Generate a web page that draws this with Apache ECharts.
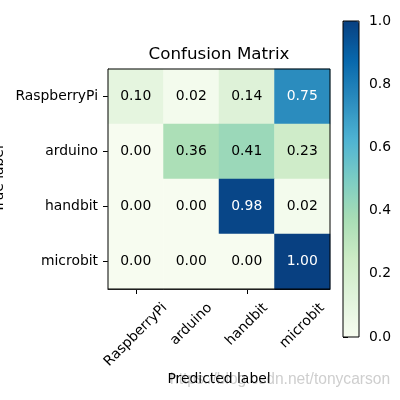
<!DOCTYPE html>
<html><head><meta charset="utf-8">
<script src="https://cdn.jsdelivr.net/npm/echarts@6/dist/echarts.min.js"></script>
<style>html,body{margin:0;padding:0;background:#fff}#c{width:400px;height:400px}</style>
</head><body><div id="c"></div>
<script>
// ---- data ----
const classes = ['RaspberryPi', 'arduino', 'handbit', 'microbit'];
const row_RaspberryPi = [0.10, 0.02, 0.14, 0.75];
const row_arduino     = [0.00, 0.36, 0.41, 0.23];
const row_handbit     = [0.00, 0.00, 0.98, 0.02];
const row_microbit    = [0.00, 0.00, 0.00, 1.00];
const matrix = [row_RaspberryPi, row_arduino, row_handbit, row_microbit];
const colorbarMin = 0, colorbarMax = 1, colorbarStep = 0.2;
const titleText = 'Confusion Matrix';
const xName = 'Predicted label';
const yName = 'True label';
const watermark = 'https://blog.csdn.net/tonycarson';

// ---- style ----
const FONT = 'DejaVu Sans';
const FS = 13.9;
const GnBu = ['#f7fcf0','#e0f3db','#ccebc5','#a8ddb5','#7bccc4','#4eb3d3','#2b8cbe','#0868ac','#084081'];
const thresh = (colorbarMax + colorbarMin) / 2;

const data = [];
matrix.forEach((row, i) => row.forEach((v, j) => {
  data.push({ value: [j, i, v], label: { color: v > thresh ? '#ffffff' : '#000000' } });
}));

// matplotlib-style rotated tick labels (rotation=45, ha='center'):
// each label gets its own label-only category axis, shifted so its rotated box hangs centred under the tick
const ctx = document.createElement('canvas').getContext('2d');
ctx.font = FS + 'px "' + FONT + '"';
const labelAxes = classes.map((c, k) => {
  const L = ctx.measureText(c).width;
  return {
    type: 'category', gridIndex: 0, data: classes, position: 'bottom',
    offset: 6.7 + 0.354 * L,
    axisLine: { show: false }, axisTick: { show: false }, splitLine: { show: false },
    axisLabel: { interval: 0, rotate: 45, align: 'center', verticalAlign: 'middle', margin: 10,
      fontFamily: FONT, fontSize: FS, color: '#000',
      formatter: (v, idx) => (idx === k ? v : '') }
  };
});

const chart = echarts.init(document.getElementById('c'), null, { renderer: 'canvas' });
chart.setOption({
  animation: false,
  backgroundColor: '#ffffff',
  textStyle: { fontFamily: FONT },
  title: {
    text: titleText, left: 219, top: 46, textAlign: 'center', padding: 0,
    textStyle: { fontFamily: FONT, fontSize: 16.7, fontWeight: 'normal', color: '#000' }
  },
  grid: [
    { left: 108, top: 69, width: 222, height: 220, show: true, borderColor: '#000', borderWidth: 1,
      backgroundColor: 'transparent', z: 5, containLabel: false, outerBoundsMode: 'none' },
    { left: 343, top: 21, width: 16, height: 316, show: true, borderColor: '#000', borderWidth: 1,
      backgroundColor: 'transparent', z: 10, containLabel: false, outerBoundsMode: 'none' }
  ],
  xAxis: [
    { type: 'category', gridIndex: 0, data: classes, position: 'bottom',
      name: xName, nameLocation: 'middle', nameGap: 83, nameMoveOverlap: false,
      nameTextStyle: { fontFamily: FONT, fontSize: FS, color: '#000' },
      axisLine: { show: true, lineStyle: { color: '#000', width: 1 } },
      axisTick: { show: true, alignWithLabel: true, length: 5, lineStyle: { color: '#000' } },
      axisLabel: { show: false },
      splitLine: { show: false } },
    { type: 'value', gridIndex: 1, min: 0, max: 1, show: false }
  ].concat(labelAxes),
  yAxis: [
    { type: 'category', gridIndex: 0, data: classes, inverse: true,
      name: yName, nameLocation: 'middle', nameGap: 102, nameRotate: 90, nameMoveOverlap: false,
      nameTextStyle: { fontFamily: FONT, fontSize: FS, color: '#000' },
      axisLine: { show: true, lineStyle: { color: '#000', width: 1 } },
      axisTick: { show: true, alignWithLabel: true, length: 5, lineStyle: { color: '#000' } },
      axisLabel: { interval: 0, margin: 10, fontFamily: FONT, fontSize: FS, color: '#000' },
      splitLine: { show: false } },
    { type: 'value', gridIndex: 1, position: 'right', min: colorbarMin, max: colorbarMax, interval: colorbarStep,
      axisLine: { show: false },
      axisTick: { show: true, length: 5, lineStyle: { color: '#000' } },
      axisLabel: { margin: 10, fontFamily: FONT, fontSize: FS, color: '#000', formatter: v => v.toFixed(1) },
      splitLine: { show: false } }
  ],
  visualMap: {
    type: 'continuous', seriesIndex: 0, min: colorbarMin, max: colorbarMax,
    calculable: false, orient: 'vertical', left: 343, top: 21, padding: 0,
    itemWidth: 16, itemHeight: 316, text: null, showLabel: false,
    inRange: { color: GnBu }, hoverLink: false
  },
  graphic: [{
    type: 'text', left: 170, top: 372, silent: true,
    style: { text: watermark, fill: 'rgba(165,165,165,0.55)', font: '15.6px "Liberation Sans"' }
  }],
  series: [
    { type: 'heatmap', xAxisIndex: 0, yAxisIndex: 0, data: data,
      label: { show: true, fontFamily: FONT, fontSize: FS, formatter: p => p.value[2].toFixed(2) },
      itemStyle: { borderWidth: 0 }, emphasis: { disabled: true } },
    { type: 'line', xAxisIndex: 1, yAxisIndex: 1, data: [], silent: true }
  ].concat(classes.map((c, k) => ({ type: 'line', xAxisIndex: 2 + k, yAxisIndex: 0, data: [], silent: true })))
});
</script></body></html>
